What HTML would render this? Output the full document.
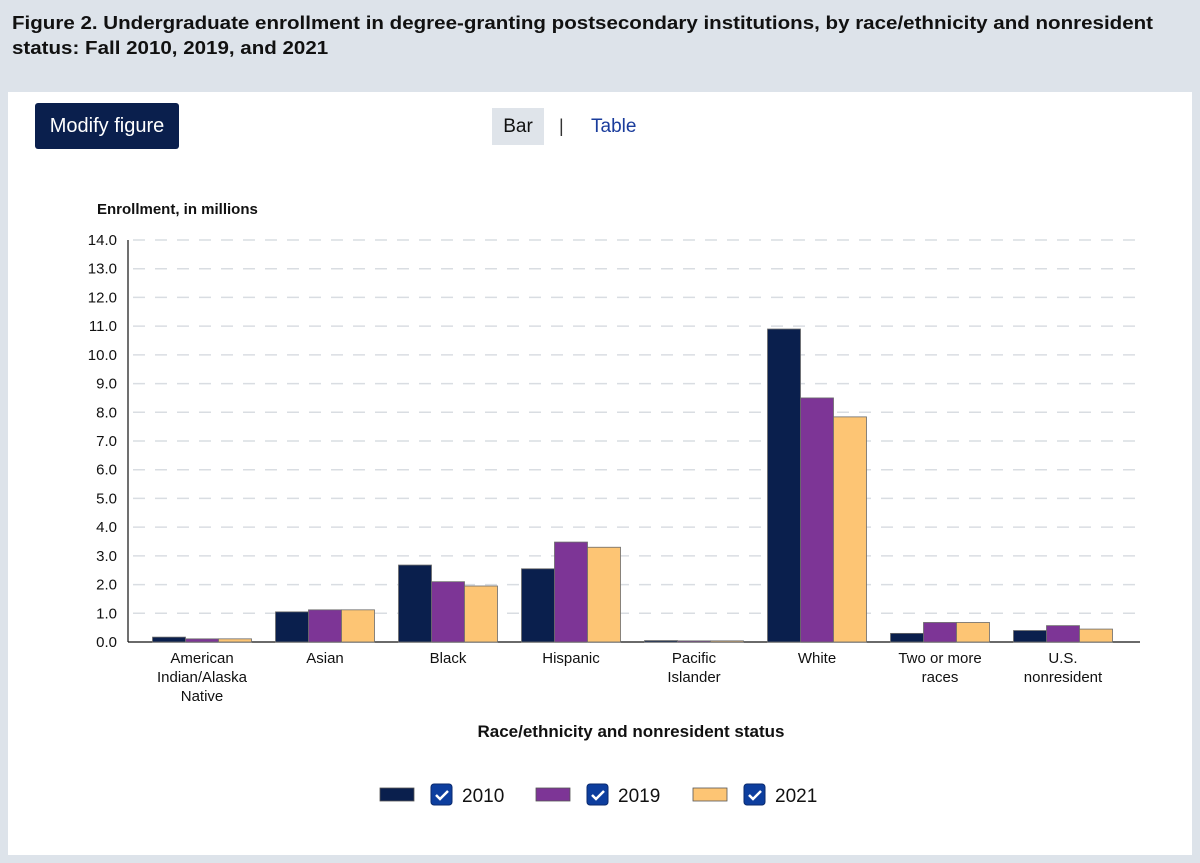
<!DOCTYPE html>
<html><head><meta charset="utf-8">
<style>
body{margin:0;width:1200px;height:863px;background:#dde3ea;font-family:"Liberation Sans",Arial,sans-serif;overflow:hidden;position:relative}
#title{position:absolute;left:12px;top:10px;font-weight:bold;font-size:18.5px;line-height:25px;color:#111;white-space:nowrap;transform:scaleX(1.11);transform-origin:0 0}
#panel{position:absolute;left:8px;top:92px;width:1184px;height:763px;background:#fff}
#modify{position:absolute;left:35px;top:103px;width:144px;height:46px;background:#0a1f4d;color:#fff;border-radius:3px;font-size:20px;line-height:46px;text-align:center}
#bar{position:absolute;left:492px;top:108px;width:52px;height:37px;background:#dfe4ea;font-size:19px;line-height:37px;text-align:center;color:#111}
#sep{position:absolute;left:559px;top:116px;font-size:18px;color:#333}
#table{position:absolute;left:591px;top:116px;font-size:19px;color:#1a3c9c}
svg{position:absolute;left:0;top:0}
</style></head><body>
<div id="title">Figure 2. Undergraduate enrollment in degree-granting postsecondary institutions, by race/ethnicity and nonresident<br>status: Fall 2010, 2019, and 2021</div>
<div id="panel"></div>
<div id="modify">Modify figure</div>
<div id="bar">Bar</div>
<div id="sep">|</div>
<div id="table">Table</div>
<svg id="chart" width="1200" height="863" font-family="Liberation Sans, Arial, sans-serif"></svg>
<script>
const categories=[["American","Indian/Alaska","Native"],["Asian"],["Black"],["Hispanic"],["Pacific","Islander"],["White"],["Two or more","races"],["U.S.","nonresident"]];
const years=["2010","2019","2021"];
const v2010=[0.17,1.05,2.68,2.55,0.05,10.9,0.3,0.4];
const v2019=[0.11,1.12,2.1,3.48,0.04,8.5,0.68,0.57];
const v2021=[0.11,1.12,1.95,3.3,0.04,7.84,0.68,0.45];
const ticks=[0,1,2,3,4,5,6,7,8,9,10,11,12,13,14];
const colors=["#0a1f4d","#7d3596","#fdc574"];
const series=[v2010,v2019,v2021];
const NS="http://www.w3.org/2000/svg",svg=document.getElementById('chart');
function mk(t,a,txt){const e=document.createElementNS(NS,t);for(const k in a)e.setAttribute(k,a[k]);if(txt!=null)e.textContent=txt;svg.appendChild(e);return e;}
const y0=642,yTop=240,yMax=14,x0=140.5,step=123,bw=33;
const Y=v=>y0-(v/yMax)*(y0-yTop);
const X=i=>x0+step*(i+0.5);
ticks.forEach(t=>{
  if(t>0){const g=mk('line',{x1:133,x2:1135,y1:Y(t),y2:Y(t),stroke:'#d9dde2','stroke-width':1.5,'stroke-dasharray':'12,10'});
  }
  const l=mk('text',{x:117,y:Y(t)+5,'text-anchor':'end','font-size':15,fill:'#111'},t.toFixed(1));
  
});
const ax=mk('line',{x1:128,x2:128,y1:Y(14),y2:y0,stroke:'#111','stroke-width':1.2});

const xa=mk('line',{x1:128,x2:1140,y1:y0,y2:y0,stroke:'#111','stroke-width':1.2});

categories.forEach((c,i)=>{
  series.forEach((s,j)=>{
    const r=mk('rect',{x:X(i)-1.5*bw+j*bw,y:Y(s[i]),width:bw,height:y0-Y(s[i]),fill:colors[j],stroke:'#6b6b6b','stroke-width':0.8});
    
  });
  c.forEach((ln,k)=>{const t=mk('text',{x:X(i),y:663+k*19,'text-anchor':'middle','font-size':15,fill:'#111'},ln);
  });
});
const yt=mk('text',{x:97,y:214,'font-size':15,'font-weight':'bold',fill:'#111'},'Enrollment, in millions');

const xt=mk('text',{x:631,y:737,'text-anchor':'middle','font-size':17,'font-weight':'bold',fill:'#111'},'Race/ethnicity and nonresident status');

const lx=[380,536,693];
years.forEach((yr,j)=>{
  const sw=mk('rect',{x:lx[j],y:788,width:34,height:13,fill:colors[j],stroke:'#555','stroke-width':0.8});
  
  const cb=mk('rect',{x:lx[j]+51,y:784,width:21,height:21,rx:3,fill:'#0d3e9e',stroke:'#0a2a6e'});
  
  const ck=mk('path',{d:`M${lx[j]+56} ${795} l4 4 l8 -8`,stroke:'#fff','stroke-width':2.5,fill:'none'});
  
  const t=mk('text',{x:lx[j]+82,y:802,'font-size':19,fill:'#111'},yr);
  
});
</script>
</body></html>
